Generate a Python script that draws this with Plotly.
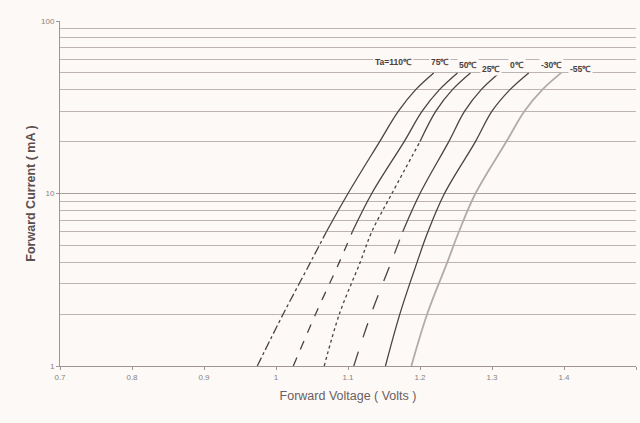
import math
import plotly.graph_objects as go

# Forward current (mA) sample points, shared by all curves
current = [1, 2, 4, 6, 10, 20, 30, 40, 50]

# Forward voltage (V) for each ambient temperature
v_110 = [0.974, 1.010, 1.048, 1.070, 1.100, 1.144, 1.170, 1.194, 1.219]
v_75 = [1.024, 1.055, 1.088, 1.106, 1.133, 1.178, 1.203, 1.227, 1.252]
v_50 = [1.067, 1.088, 1.117, 1.133, 1.161, 1.200, 1.222, 1.245, 1.270]
v_25 = [1.108, 1.132, 1.160, 1.176, 1.200, 1.240, 1.262, 1.285, 1.310]
v_0 = [1.152, 1.172, 1.196, 1.211, 1.234, 1.277, 1.300, 1.325, 1.351]
v_m55 = [1.188, 1.210, 1.238, 1.254, 1.277, 1.320, 1.345, 1.370, 1.396]

# Label texts and positions (voltage, current)
label_text = ["Ta=110℃", "75℃", "50℃", "25℃", "0℃", "-30℃", "-55℃"]
label_v = [1.163, 1.228, 1.266, 1.298, 1.335, 1.383, 1.423]
label_i = [58.0, 58.0, 55.9, 52.7, 55.9, 55.9, 52.7]

x_ticks = [0.7, 0.8, 0.9, 1.0, 1.1, 1.2, 1.3, 1.4, 1.5]
x_tick_text = ["0.7", "0.8", "0.9", "1", "1.1", "1.2", "1.3", "1.4", "1.5"]
y_ticks = [1, 10, 100]
y_minor = [2, 3, 4, 5, 6, 7, 8, 9, 20, 30, 40, 50, 60, 70, 80, 90]

BG = "#fdf9f6"
DARK = "#4d4242"
LIGHT = "#b3aaa9"

fig = go.Figure()


def add_curve(v, split, dash, color=DARK, width=1.3):
    # lower (dashed) part up to index `split`, upper solid part from `split`
    if split > 0:
        fig.add_trace(go.Scatter(x=v[:split + 1], y=current[:split + 1], mode="lines",
                                 line=dict(color=color, width=width, dash=dash,
                                           shape="spline", smoothing=1.0),
                                 showlegend=False, hoverinfo="skip"))
    fig.add_trace(go.Scatter(x=v[split:], y=current[split:], mode="lines",
                             line=dict(color=color, width=width, shape="spline",
                                       smoothing=1.0),
                             showlegend=False, hoverinfo="skip"))


add_curve(v_110, 3, "dashdot")
add_curve(v_75, 3, "dash")
add_curve(v_50, 5, "dot")
add_curve(v_25, 3, "longdash")
add_curve(v_0, 0, None)
add_curve(v_m55, 0, None, color=LIGHT, width=1.8)

for t, xv, yv in zip(label_text, label_v, label_i):
    fig.add_annotation(x=xv, y=math.log10(yv), xref="x", yref="y",
                       text="<b>" + t + "</b>", showarrow=False, bgcolor=BG,
                       borderpad=1,
                       font=dict(family="Liberation Sans", size=8.5, color="#4a4040"))

fig.update_layout(
    width=640, height=423,
    margin=dict(l=60, r=4, t=21, b=57),
    paper_bgcolor=BG, plot_bgcolor=BG,
    font=dict(family="Liberation Sans", color="#777"),
    showlegend=False,
)
fig.update_xaxes(range=[0.7, 1.5], tickvals=x_ticks, ticktext=x_tick_text,
                 showgrid=False, zeroline=False,
                 showline=True, linecolor="#9e9594", linewidth=1,
                 ticks="outside", ticklen=3, tickcolor="#9e9594",
                 tickfont=dict(size=8, color="#8a8282"),
                 title=dict(text="Forward Voltage ( Volts )",
                            font=dict(size=12.5, color="#6a6060"), standoff=10))
fig.update_yaxes(type="log", range=[0, 2], tickvals=y_ticks,
                 ticktext=["1", "10", "100"],
                 showgrid=True, gridcolor="#a89e9d", gridwidth=1, zeroline=False,
                 showline=True, linecolor="#9e9594", linewidth=1,
                 ticks="outside", ticklen=3, tickcolor="#9e9594",
                 tickfont=dict(size=8, color="#8a8282"),
                 minor=dict(tickvals=y_minor, showgrid=True, gridcolor="#bdb3b2",
                            gridwidth=1, ticks=""),
                 title=dict(text="<b>Forward Current ( mA )</b>",
                            font=dict(size=12.5, color="#5a5050"), standoff=2))

fig.write_html("out.html", config={"displayModeBar": False},
               post_script="document.body.style.margin='0';document.body.style.padding='0';")
